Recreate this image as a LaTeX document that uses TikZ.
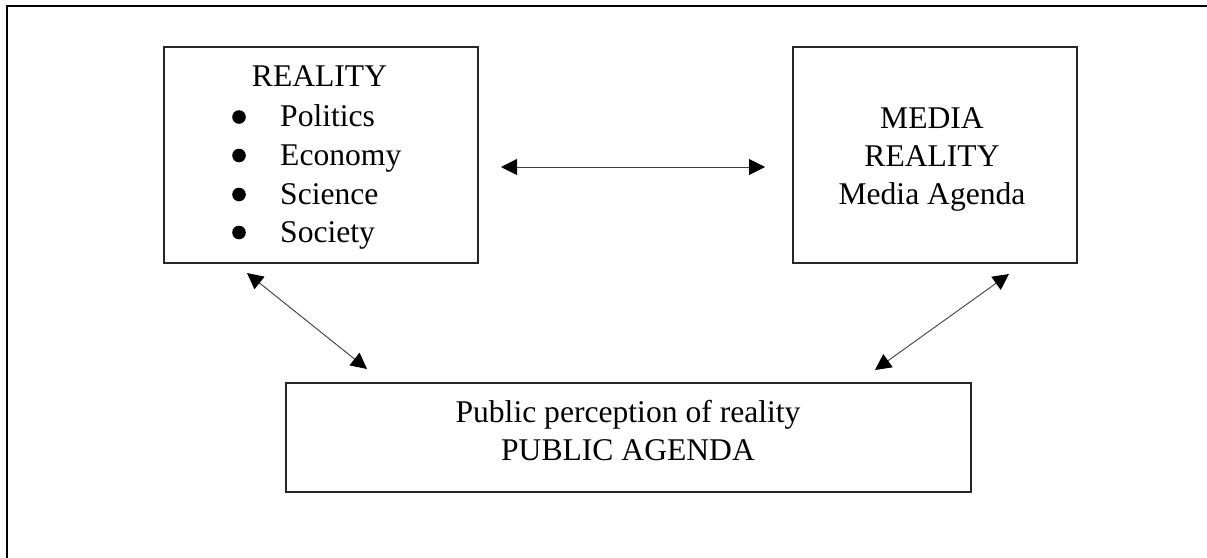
\documentclass[tikz,border=0pt]{standalone}
\usepackage{fontspec}
\setmainfont{Liberation Serif}
\usetikzlibrary{arrows.meta}
\begin{document}
\begin{tikzpicture}[x=1pt,y=-1pt,
  box/.style={draw=black!85,line width=1.1pt,rectangle,inner sep=0pt,fill=none},
  txt/.style={inner sep=0pt,font=\fontsize{31.6pt}{38.5pt}\selectfont},
  link/.style={draw=black!75,line width=0.9pt,{Triangle[length=16pt,width=16pt,color=black]}-{Triangle[length=16pt,width=16pt,color=black]}},
  bulletdot/.style={fill=black}]
\useasboundingbox (0,0) rectangle (1207,557);
\fill[white] (0,0) rectangle (1207,557);
% outer frame (left and top)
\draw[line width=2.2pt] (7,565) -- (7,6) -- (1215,6);
% boxes
\node[box,minimum width=314pt,minimum height=216pt] (reality) at (321,155) {};
\node[box,minimum width=284pt,minimum height=216pt] (media) at (935,155) {};
\node[box,minimum width=685pt,minimum height=109pt] (public) at (628.5,437.5) {};
% texts of REALITY box
\node[txt,anchor=base] (rtitle) at (319.5,86.5) {REALITY};
\node[txt,anchor=base west] (r1) at (280,126.5) {Politics};
\node[txt,anchor=base west] (r2) at (280,165) {Economy};
\node[txt,anchor=base west] (r3) at (280,204) {Science};
\node[txt,anchor=base west] (r4) at (280,242) {Society};
\foreach \y in {126.5,165,204,242}{\fill[bulletdot] (239,\y-9.5) circle (6.8pt);}
% texts of MEDIA box
\node[txt,anchor=base] (m1) at (932,128.3) {MEDIA};
\node[txt,anchor=base] (m2) at (932,166.7) {REALITY};
\node[txt,anchor=base] (m3) at (932,204) {Media Agenda};
% texts of PUBLIC box
\node[txt,anchor=base] (p1) at (628,422.3) {Public perception of reality};
\node[txt,anchor=base] (p2) at (628,460) {PUBLIC AGENDA};
% connector end points
\coordinate (hA) at (501,167);
\coordinate (hB) at (765,167);
\coordinate (lA) at (247,273);
\coordinate (lB) at (367,369);
\coordinate (rA) at (1009,274);
\coordinate (rB) at (875,370);
\draw[link] (hA) -- (hB);
\draw[link] (lA) -- (lB);
\draw[link] (rA) -- (rB);
\end{tikzpicture}
\end{document}
